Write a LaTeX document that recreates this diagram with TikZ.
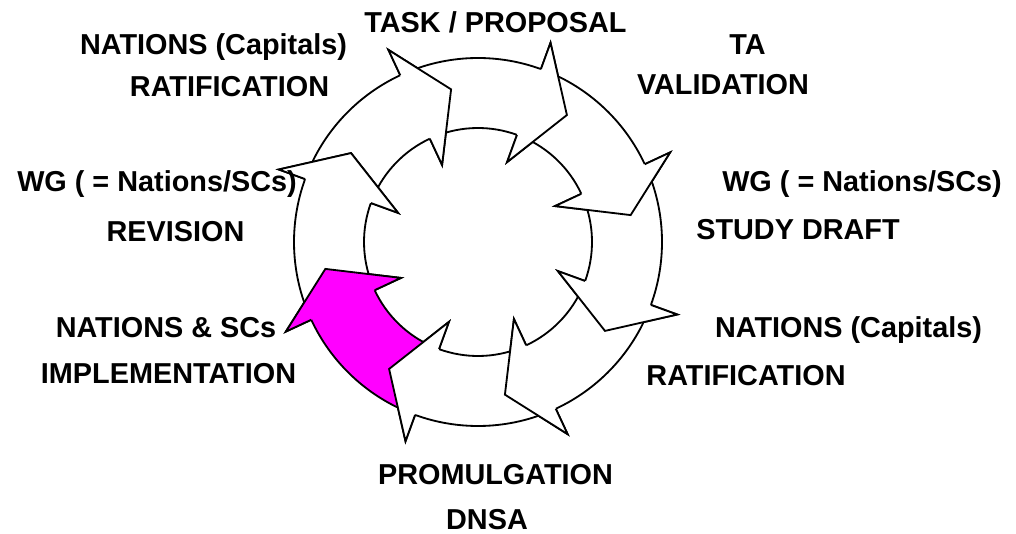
\documentclass[tikz,border=0pt]{standalone}
\usepackage{fontspec}
\setmainfont{Liberation Sans}
\usepackage{tikz}

\definecolor{implpink}{RGB}{255,0,255}

\tikzset{
  cycarrow/.style={draw=black, line width=1.3pt, fill=white},
  cycline/.style={draw=black, line width=1.3pt},
  lbl/.style={font=\bfseries\fontsize{20.5}{24}\selectfont, anchor=base, inner sep=0pt}
}

\begin{document}
\begin{tikzpicture}[x=0.025cm, y=0.025cm]
  \useasboundingbox (0,0) rectangle (1016,533);

  \begin{scope}[shift={(478,291)}]
    % ring of arrows
    \foreach \a/\c in {115/white,70/white,25/white,-20/white,-65/white,-110/white,-155/implpink,160/white}{
      \filldraw[cycarrow, fill=\c] ({\a+42}:184) arc[start angle=\a+42, end angle=\a, radius=184]
        -- (\a:212) -- ({\a-15}:155) -- (\a:85) -- (\a:114)
        arc[start angle=\a, end angle=\a+42, radius=114] -- cycle;
    }
    % heads on top of the next tails
    \foreach \a/\c in {115/white,70/white,25/white,-20/white,-65/white,-110/white,-155/implpink,160/white}{
      \fill[fill=\c] (\a:212) -- ({\a-15}:155) -- (\a:85) -- cycle;
      \draw[cycline] (\a:184) -- (\a:212) -- ({\a-15}:155) -- (\a:85) -- (\a:114);
    }
  \end{scope}

  \node[lbl] (task) at (495.5,500) {TASK / PROPOSAL};
  \node[lbl] (natcapA) at (213.5,478) {NATIONS (Capitals)};
  \node[lbl] (ratifA) at (229.5,436) {RATIFICATION};
  \node[lbl] (ta) at (747.5,478) {TA};
  \node[lbl] (valid) at (723,438) {VALIDATION};
  \node[lbl] (wgA) at (157,341) {WG ( = Nations/SCs)};
  \node[lbl] (revis) at (175.5,291) {REVISION};
  \node[lbl] (wgB) at (862,341) {WG ( = Nations/SCs)};
  \node[lbl] (study) at (798,293) {STUDY DRAFT};
  \node[lbl] (natsc) at (166,196) {NATIONS \& SCs};
  \node[lbl] (impl) at (168.5,150) {IMPLEMENTATION};
  \node[lbl] (natcapB) at (848.5,196) {NATIONS (Capitals)};
  \node[lbl] (ratifB) at (746,148) {RATIFICATION};
  \node[lbl] (promul) at (495.5,49) {PROMULGATION};
  \node[lbl] (dnsa) at (487,4) {DNSA};
\end{tikzpicture}
\end{document}
